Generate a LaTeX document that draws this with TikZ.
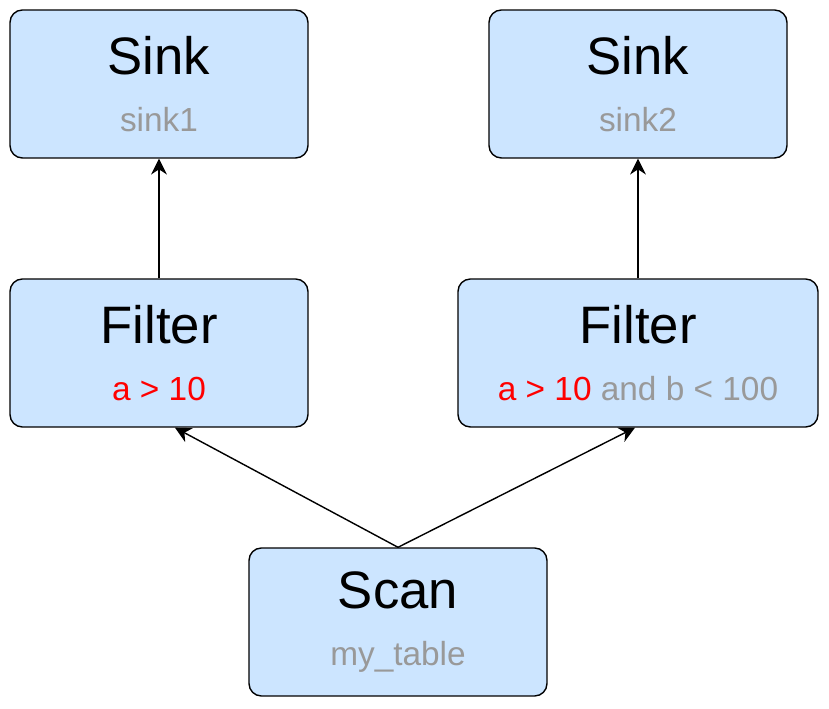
\documentclass[tikz,border=0pt]{standalone}
\usepackage{fontspec}
\setmainfont{Liberation Sans}
\usetikzlibrary{positioning}
\usetikzlibrary{arrows.meta}
\definecolor{boxfill}{HTML}{CCE5FF}
\definecolor{subgray}{HTML}{999999}
\definecolor{hotred}{HTML}{FF0000}
\newcommand{\subtext}{\fontsize{19}{24}\selectfont}
\tikzset{x=0.02cm, y=-0.02cm,
  every node/.style={align=center},
  op/.style={ % operator boxes
    draw=black, thick, fill=boxfill, rounded corners=7pt,
    minimum width=5.96cm, minimum height=2.96cm,
    font=\fontsize{30}{36}\selectfont},
  flow/.style={draw, ->, thick, >={Stealth[length=9pt,width=9pt]}}}
\begin{document}
\begin{tikzpicture}
  \useasboundingbox (0,0) rectangle (829,709);

  \node [op] (sink1) at (159,84) {Sink\\[-4pt]{\subtext\color{subgray}sink1}};
  \node [op] (sink2) at (638,84) {Sink\\[-4pt]{\subtext\color{subgray}sink2}};
  \node [op] (filter1) at (159,353) {Filter\\[-4pt]{\subtext\color{hotred}a > 10}};
  \node [op, minimum width=7.2cm] (filter2) at (638,353)
    {Filter\\[-4pt]{\subtext\color{hotred}a > 10 \color{subgray}and b < 100}};
  \node [op] (scan) at (398,622) {Scan\\[-4pt]{\subtext\color{subgray}my\_table}};

  \draw [flow] (filter1) -- (sink1);
  \draw [flow] (filter2) -- (sink2);
  \draw [flow] (scan.north) -- ([xshift=0.32cm]filter1.south);
  \draw [flow] (scan.north) -- ([xshift=-0.06cm]filter2.south);
\end{tikzpicture}
\end{document}
